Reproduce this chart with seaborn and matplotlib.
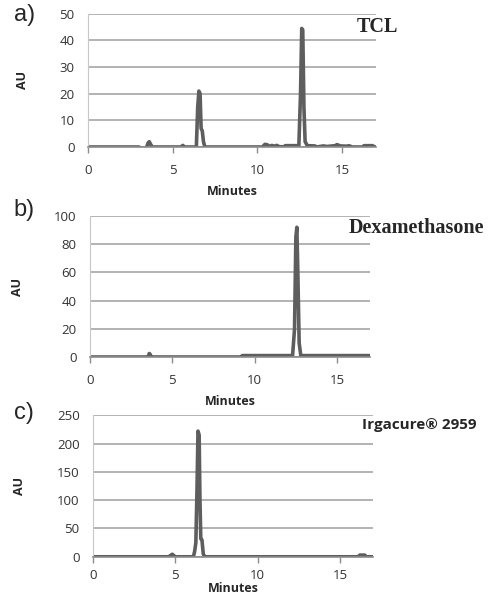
import matplotlib
matplotlib.use("Agg")
import matplotlib.pyplot as plt
import seaborn as sns
import pandas as pd

# chromatogram traces (minutes, AU)
tcl_min = [0, 3.0, 3.15, 3.3, 3.45, 3.55, 3.62, 3.7, 3.8, 5.5, 5.6, 5.7, 6.4, 6.48, 6.55, 6.62,
           6.68, 6.75, 6.82, 6.9, 10.3, 10.45, 10.6, 10.7, 10.85, 11.0, 11.15, 11.3, 11.6, 11.65,
           12.45, 12.55, 12.62, 12.68, 12.75, 12.82, 12.95, 13.4, 13.5, 13.9, 14.1, 14.6, 14.7,
           14.9, 15.3, 15.4, 15.6, 16.2, 16.3, 16.8, 16.9, 17.0]
tcl_au = [0, 0, -0.4, -0.6, -0.3, 1.5, 2.0, 1.0, 0, 0, 0.6, 0, 0, 15, 21, 20, 7, 6, 2, 0, 0, 1.0,
          0.8, 0.2, 0.6, 0.3, 0.6, 0.1, 0.1, 0.5, 0.5, 20, 44.5, 44, 15, 2, 0.5, 0.4, 0, 0.4, 0.2,
          0.5, 0.9, 0.4, 0.3, 0.5, 0, 0, 0.5, 0.5, 0.1, 0]

dex_min = [0, 3.45, 3.52, 3.6, 3.65, 3.72, 3.8, 9.15, 9.25, 12.3, 12.42, 12.5, 12.56, 12.62,
           12.7, 12.8, 17.0]
dex_au = [0, 0, -1.2, 2.5, 2.0, 0, 0, 0, 1.0, 1.0, 20, 85, 92, 60, 10, 1.0, 1.0]

irg_min = [0, 4.6, 4.72, 4.82, 4.92, 5.0, 6.1, 6.18, 6.25, 6.32, 6.38, 6.45, 6.5, 6.55, 6.62,
           6.7, 6.8, 16.1, 16.2, 16.5, 16.6, 17.0]
irg_au = [0, 0, 2.5, 4.5, 2.0, 0, 0, 10, 25, 120, 222, 215, 100, 32, 30, 5, 0, 0, 3, 3, 0, 0]

panels = [
    ("a)", "TCL", tcl_min, tcl_au, [0, 10, 20, 30, 40, 50]),
    ("b)", "Dexamethasone", dex_min, dex_au, [0, 20, 40, 60, 80, 100]),
    ("c)", "Irgacure® 2959", irg_min, irg_au, [0, 50, 100, 150, 200, 250]),
]

sns.set_style("white")
plt.rcParams["font.family"] = ["Open Sans", "DejaVu Sans"]

fig = plt.figure(figsize=(4.94, 6), dpi=100)
boxes = [
    [0.178, 0.755, 0.583, 0.222],
    [0.182, 0.405, 0.567, 0.235],
    [0.188, 0.072, 0.567, 0.236],
]
label_y = [0.975, 0.65, 0.312]
title_pos = [(0.722, 0.955), (0.705, 0.62), (0.733, 0.292)]
xtick_pad = [8, 8, 5]
xlabel_pad = [6, 6, 0]

for i, (tag, name, t, au, yt) in enumerate(panels):
    ax = fig.add_axes(boxes[i])
    df = pd.DataFrame({"Minutes": t, "AU": au})
    sns.lineplot(data=df, x="Minutes", y="AU", ax=ax, color="#5e5e5e", linewidth=2.6,
                 sort=False, estimator=None)
    ax.set_xlim(0, 17)
    ax.set_ylim(yt[0], yt[-1])
    ax.set_yticks(yt)
    ax.set_xticks([0, 5, 10, 15])
    ax.yaxis.grid(True, color="#a6a6a6", linewidth=1.2)
    ax.set_axisbelow(True)
    for s in ["top", "right"]:
        ax.spines[s].set_visible(False)
    ax.spines["left"].set_color("#c8c8c8")
    ax.spines["left"].set_linewidth(0.8)
    ax.spines["bottom"].set_color("#8c8c8c")
    ax.spines["bottom"].set_linewidth(1.2)
    ax.tick_params(axis="x", bottom=True, length=4, width=1, color="#8c8c8c",
                   labelsize=9.5, labelcolor="#333333", pad=xtick_pad[i])
    ax.tick_params(axis="y", left=False, labelsize=9.5, labelcolor="#333333", pad=6)
    ax.set_xlabel("Minutes", fontsize=9, fontweight="bold", labelpad=xlabel_pad[i])
    ax.set_ylabel("AU", fontsize=9, fontweight="bold", labelpad=22)
    fig.text(0.028, label_y[i], tag, fontsize=17, family="Liberation Sans", va="center")
    if i < 2:
        fig.text(title_pos[i][0], title_pos[i][1], name, fontsize=14.5, fontweight="bold",
                 family="Liberation Serif", va="center")
    else:
        fig.text(title_pos[i][0], title_pos[i][1], name, fontsize=11, fontweight="bold",
                 va="center")

fig.savefig("out.png", dpi=100)
